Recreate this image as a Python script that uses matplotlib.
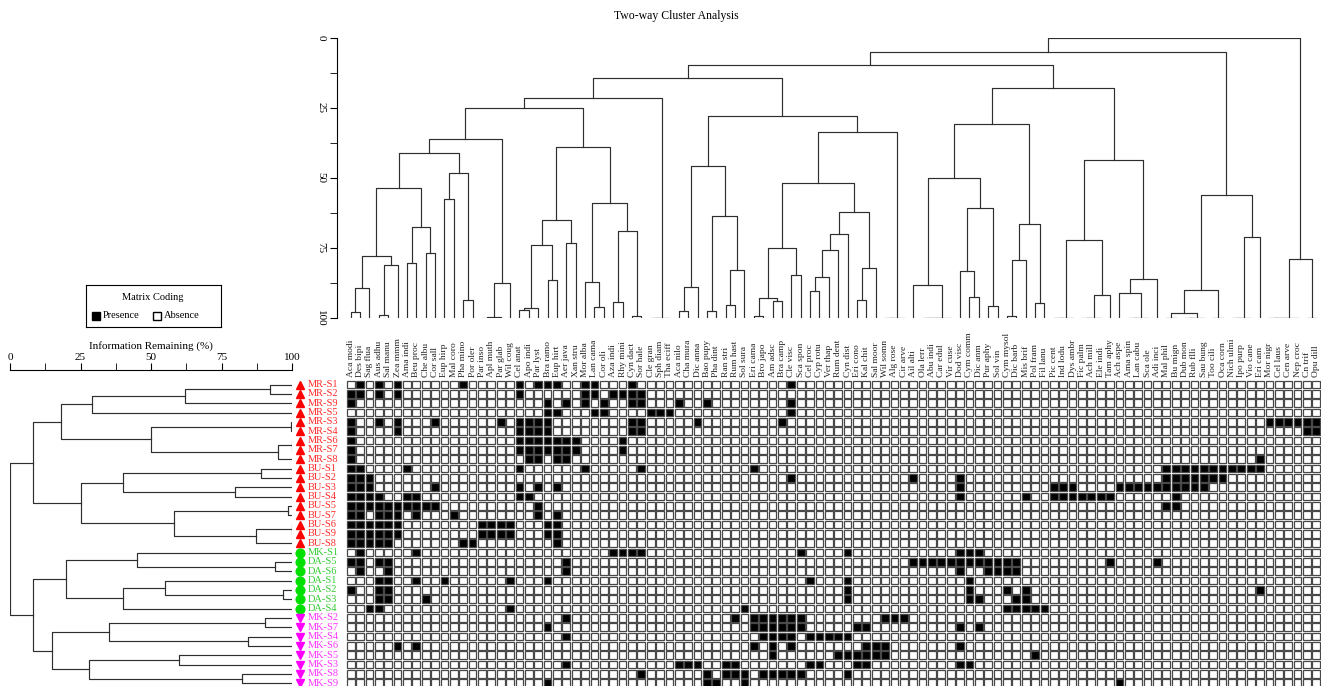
import numpy as np
import matplotlib.pyplot as plt
from matplotlib.patches import Rectangle
from matplotlib.ticker import MultipleLocator

plt.rcParams['font.family'] = ['Liberation Serif', 'DejaVu Serif']

W, H = 1322, 686

species = [
    "Aca modi", "Des bipi", "Sag flua", "Aus adhu", "Sal manu", "Zea mmm", "Ama indi", "Beu proc", "Che albu", "Cor sall",
    "Eup hirp", "Mal coro", "Pha mino", "Por oler", "Par inso", "Apl muth", "Par glab", "Wil coug", "Cel anat", "Apo indi",
    "Par lyst", "Bra ramo", "Eup hirt", "Aer java", "Xan stru", "Mor alba", "Lan cama", "Cor oli", "Aza indi", "Rhy mini",
    "Cyn dact", "Sor hale", "Cle gran", "Sph diam", "Tha eciff", "Aca nilo", "Cha mura", "Dic anna", "Bao pupy", "Pha dint",
    "Ran stri", "Rum hast", "Sol sura", "Eri cama", "Bro japo", "Am adsc", "Bra camp", "Cle visc", "Sca spon", "Cel proc",
    "Cyp rotu", "Ver thap", "Rum dent", "Cyn dist", "Eri cono", "Kal chit", "Sal moor", "Wil somn", "Alg rose", "Cir arve",
    "Ail alti", "Ola lerr", "Abu indi", "Car edul", "Vir cuse", "Dod visc", "Cym comm", "Dic anm", "Pur aphy", "Sol vin",
    "Cym mysol", "Dic barb", "Mis brif", "Pol fram", "Fil lanu", "Pic cent", "Ind lodu", "Dys ambr", "Fic palm", "Ach mill",
    "Ele indi", "Tam aphy", "Ach aspe", "Ama spin", "Lan cabu", "Sca ole", "Adi inci", "Mal phil", "Bu mign", "Dub mon",
    "Rub flli", "Sau bung", "Too cili", "Oca corn", "Nich ulmi", "Ipo purp", "Vio cane", "Eri cam", "Mor nigr", "Cel laus",
    "Cen arve", "Nep croc", "Cn trif", "Opu dill",
]

sites = [
    "MR-S1", "MR-S2", "MR-S9", "MR-S5", "MR-S3", "MR-S4", "MR-S6", "MR-S7", "MR-S8",
    "BU-S1", "BU-S2", "BU-S3", "BU-S4", "BU-S5", "BU-S7", "BU-S6", "BU-S9", "BU-S8",
    "MK-S1", "DA-S5", "DA-S6", "DA-S1", "DA-S2", "DA-S3", "DA-S4",
    "MK-S2", "MK-S7", "MK-S4", "MK-S6", "MK-S5", "MK-S3", "MK-S8", "MK-S9",
]
site_group = [1] * 18 + [2] * 7 + [3] * 8

# columns (species index) where each site has the species present
presence = [
    [1, 3, 5, 12, 18, 20, 21, 22, 25, 26, 30, 47],
    [0, 1, 3, 5, 18, 25, 26, 28, 29, 30, 31],
    [0, 21, 23, 25, 27, 30, 31, 35, 38, 47],
    [21, 22, 26, 27, 32, 33, 34, 47],
    [0, 3, 5, 9, 16, 18, 19, 20, 21, 30, 31, 37, 46, 98, 99, 100, 101, 102, 103],
    [0, 5, 18, 19, 20, 21, 30, 31, 102, 103],
    [0, 18, 19, 20, 21, 22, 23, 24, 29],
    [0, 18, 19, 20, 21, 22, 23, 24, 29],
    [0, 19, 20, 22, 23, 97],
    [0, 1, 6, 18, 25, 31, 43, 87, 88, 89, 90, 91, 92, 93, 94, 95, 96, 97],
    [0, 1, 2, 47, 60, 65, 87, 88, 89, 90, 91, 92, 93],
    [0, 1, 2, 9, 18, 20, 22, 65, 75, 76, 77, 82, 83, 84, 85, 86, 87, 88, 89, 90, 91],
    [0, 1, 2, 3, 6, 7, 18, 19, 65, 72, 75, 76, 77, 78, 79, 80, 81, 88],
    [0, 1, 2, 3, 4, 5, 6, 7, 8, 9, 20, 87, 88],
    [0, 1, 3, 4, 5, 7, 11, 20, 22],
    [0, 1, 2, 3, 4, 5, 14, 15, 16, 17, 21, 22],
    [0, 1, 2, 3, 4, 5, 14, 15, 16, 17, 21, 22],
    [0, 1, 2, 3, 4, 12, 13, 22],
    [1, 7, 28, 29, 30, 31, 48, 53, 65, 66, 67],
    [0, 1, 3, 4, 23, 60, 61, 62, 63, 64, 65, 66, 67, 68, 69, 70, 71, 81, 86],
    [1, 4, 23, 65, 68, 69, 70, 71],
    [3, 4, 7, 10, 17, 21, 49, 53, 66],
    [0, 3, 4, 53, 66, 70, 72, 97],
    [3, 4, 8, 53, 66, 67, 71, 72],
    [2, 3, 17, 42, 70, 71, 72, 73, 74],
    [23, 41, 43, 44, 45, 46, 47, 48, 57, 58, 59],
    [21, 43, 44, 45, 46, 47, 48, 54, 55, 65, 67],
    [23, 44, 45, 46, 47, 49, 50, 51, 52, 53],
    [5, 7, 43, 45, 47, 55, 56, 57, 65],
    [45, 52, 53, 54, 55, 56, 57, 73],
    [23, 35, 36, 37, 40, 41, 49, 50, 54, 55, 65, 66],
    [31, 38, 40, 41, 42, 44, 45, 46, 47, 48, 53],
    [21, 38, 39, 42, 82],
]

# dendrogram links: (start, split, end, information remaining %)
# each joins leaves [start, split) with [split, end)
top_links = [
    (0, 98, 104, 0), (0, 87, 98, 5.1), (0, 60, 87, 9.7), (0, 35, 60, 14.2),
    # Aca modi .. Tha eciff
    (0, 32, 35, 21.5), (0, 18, 32, 24.9), (0, 14, 18, 36.1), (0, 10, 14, 41.2),
    (0, 6, 10, 53.7), (0, 3, 6, 77.8), (0, 2, 3, 89.3), (0, 1, 2, 98),
    (3, 5, 6, 81.2), (3, 4, 5, 98.8), (6, 8, 10, 67.5), (6, 7, 8, 80.5),
    (8, 9, 10, 76.7), (10, 12, 14, 48.3), (10, 11, 12, 57.6), (12, 13, 14, 93.4),
    (14, 17, 18, 87.6), (14, 16, 17, 99.5), (14, 15, 16, 100),
    (18, 25, 32, 38.8), (18, 23, 25, 65.1), (18, 21, 23, 74.1), (18, 20, 21, 96.5),
    (18, 19, 20, 97), (21, 22, 23, 86.5), (23, 24, 25, 73.1),
    (25, 28, 32, 58.8), (25, 26, 28, 87.1), (26, 27, 28, 96), (28, 30, 32, 68.9),
    (28, 29, 30, 94.4), (30, 31, 32, 99.2), (32, 34, 35, 100), (32, 33, 34, 100),
    # Aca nilo .. Cir arve
    (35, 43, 60, 27.8), (35, 38, 43, 45.8), (35, 37, 38, 88.8), (35, 36, 37, 97.4),
    (38, 40, 43, 63.4), (38, 39, 40, 97.4), (40, 42, 43, 82.8), (40, 41, 42, 95.5),
    (43, 57, 60, 33.4), (43, 49, 57, 51.8), (43, 47, 49, 75.1), (43, 45, 47, 92.7),
    (43, 44, 45, 99.2), (45, 46, 47, 94.1), (47, 48, 49, 84.5),
    (49, 54, 57, 62.1), (49, 53, 54, 70.1), (49, 52, 53, 75.7), (49, 51, 52, 85.2),
    (49, 50, 51, 90.5), (54, 56, 57, 82.2), (54, 55, 56, 93.7),
    (57, 59, 60, 100), (57, 58, 59, 100),
    # Ail alti .. Adi inci
    (60, 75, 87, 18), (60, 70, 75, 30.8), (60, 65, 70, 50), (60, 61, 65, 88.2),
    (61, 64, 65, 100), (61, 63, 64, 100), (61, 62, 63, 100),
    (65, 68, 70, 60.6), (65, 66, 68, 83.3), (66, 67, 68, 92.4), (68, 69, 70, 95.7),
    (70, 73, 75, 66.4), (70, 72, 73, 79.4), (70, 71, 72, 99.2), (73, 74, 75, 94.7),
    (75, 82, 87, 43.4), (75, 78, 82, 72.2), (75, 77, 78, 100), (75, 76, 77, 100),
    (78, 81, 82, 91.8), (78, 80, 81, 100), (78, 79, 80, 100),
    (82, 86, 87, 85.9), (82, 83, 86, 91.1), (83, 85, 86, 100), (83, 84, 85, 100),
    # Mal phil .. Eri cam
    (87, 94, 98, 55.9), (87, 92, 94, 89.9), (87, 89, 92, 98.2), (87, 88, 89, 100),
    (89, 91, 92, 100), (89, 90, 91, 100), (92, 93, 94, 100),
    (94, 97, 98, 71.1), (94, 96, 97, 100), (94, 95, 96, 100),
    # Mor nigr .. Opu dill
    (98, 102, 104, 78.8), (98, 101, 102, 100), (98, 100, 101, 100),
    (98, 99, 100, 100), (102, 103, 104, 100),
]
left_links = [
    (0, 18, 33, 0), (0, 9, 18, 8), (18, 25, 33, 8),
    # MR sites
    (0, 4, 9, 18), (0, 3, 4, 29), (0, 2, 3, 62), (0, 1, 2, 92.2), (4, 6, 9, 50),
    (4, 5, 6, 99.6), (6, 8, 9, 95), (6, 7, 8, 100),
    # BU sites
    (9, 13, 18, 25), (9, 11, 13, 40), (9, 10, 11, 89), (11, 12, 13, 79.8),
    (13, 15, 18, 58), (13, 14, 15, 98.6), (15, 17, 18, 87.2), (15, 16, 17, 100),
    # DA sites and MK-S1
    (18, 21, 25, 20), (18, 19, 21, 45), (19, 20, 21, 94), (21, 24, 25, 40),
    (21, 22, 24, 55), (22, 23, 24, 96.8),
    # MK sites
    (25, 29, 33, 15), (25, 27, 29, 35), (25, 26, 27, 90.4), (27, 28, 29, 84.4),
    (29, 31, 33, 28), (29, 30, 31, 60), (31, 32, 33, 82.3),
]

LINE = '#2e2e2e'


def px_box(left, top, width, height):
    return [left / W, 1 - (top + height) / H, width / W, height / H]


def draw_dendrogram(ax, links, n, vertical=True):
    by_range = {(s, e): (m, h) for s, m, e, h in links}
    done = {}

    def node(s, e):
        if e - s == 1:
            return s + 0.5, 100.0
        if (s, e) in done:
            return done[(s, e)]
        m, h = by_range[(s, e)]
        xl, hl = node(s, m)
        xr, hr = node(m, e)
        if vertical:
            ax.plot([xl, xl, xr, xr], [hl, h, h, hr], color=LINE, lw=0.85)
        else:
            ax.plot([hl, h, h, hr], [xl, xl, xr, xr], color=LINE, lw=0.85)
        done[(s, e)] = ((xl + xr) / 2.0, h)
        return done[(s, e)]

    node(0, n)


fig = plt.figure(figsize=(W / 100, H / 100), dpi=100)
n_rows, n_cols = len(sites), len(species)
row_h = 9.33

fig.text(676 / W, 1 - 16 / H, "Two-way Cluster Analysis", ha='center', va='center', fontsize=8.5)

# presence/absence matrix
ax_mat = fig.add_axes(px_box(346, 380, 975, n_rows * row_h))
ax_mat.set_xlim(0, n_cols)
ax_mat.set_ylim(n_rows, 0)
ax_mat.axis('off')
for r, cols in enumerate(presence):
    present = set(cols)
    for c in range(n_cols):
        fc = 'black' if c in present else 'white'
        ax_mat.add_patch(Rectangle((c + 0.09, r + 0.09), 0.82, 0.82, facecolor=fc,
                                   edgecolor='#484848', lw=0.9))
for c, name in enumerate(species):
    ax_mat.text(c + 0.5, -0.3, name, rotation=90, ha='center', va='bottom',
                fontsize=6.8, color='#222222')

# site markers and labels
ax_lab = fig.add_axes(px_box(292, 380, 54, n_rows * row_h))
ax_lab.set_xlim(0, 54)
ax_lab.set_ylim(n_rows, 0)
ax_lab.axis('off')
styles = {1: ('^', '#ff0000', '#ff2a2a'), 2: ('o', '#00e000', '#33cc33'), 3: ('v', '#ff00ff', '#ff33ff')}
for r, (name, g) in enumerate(zip(sites, site_group)):
    mk, mc, tc = styles[g]
    ax_lab.plot(8, r + 0.5, marker=mk, color=mc, ms=6.3, ls='none')
    ax_lab.text(16, r + 0.5, name, color=tc, fontsize=7.5, va='center', ha='left')

# species dendrogram
ax_top = fig.add_axes(px_box(346, 38, 975, 280))
ax_top.set_xlim(0, n_cols)
ax_top.set_ylim(100, 0)
for sp in ['top', 'right', 'bottom']:
    ax_top.spines[sp].set_visible(False)
ax_top.spines['left'].set_position(('outward', 6.5))
ax_top.set_xticks([])
ax_top.set_yticks([0, 25, 50, 75, 100])
ax_top.yaxis.set_minor_locator(MultipleLocator(12.5))
ax_top.tick_params(axis='y', which='both', length=5, labelsize=8)
for t in ax_top.get_yticklabels():
    t.set_rotation(-90)
    t.set_va('center')
draw_dendrogram(ax_top, top_links, n_cols, vertical=True)

# site dendrogram
ax_left = fig.add_axes(px_box(10, 380, 282, n_rows * row_h))
ax_left.set_xlim(0, 100)
ax_left.set_ylim(n_rows, 0)
for sp in ['bottom', 'right', 'left']:
    ax_left.spines[sp].set_visible(False)
ax_left.spines['top'].set_position(('outward', 7))
ax_left.xaxis.tick_top()
ax_left.xaxis.set_label_position('top')
ax_left.set_yticks([])
ax_left.set_xticks([0, 25, 50, 75, 100])
ax_left.xaxis.set_minor_locator(MultipleLocator(12.5))
ax_left.tick_params(axis='x', which='both', length=5, labelsize=8, pad=1)
ax_left.set_xlabel("Information Remaining (%)", fontsize=8, labelpad=3)
draw_dendrogram(ax_left, left_links, n_rows, vertical=False)

# legend box
ax_leg = fig.add_axes(px_box(86, 285, 135, 42))
ax_leg.set_xlim(0, 135)
ax_leg.set_ylim(42, 0)
ax_leg.set_xticks([])
ax_leg.set_yticks([])
ax_leg.text(67, 12, "Matrix Coding", ha='center', va='center', fontsize=7.5)
ax_leg.plot(10, 31, marker='s', color='black', ms=6)
ax_leg.text(17, 31, "Presence", va='center', fontsize=7.5)
ax_leg.plot(71, 31, marker='s', mfc='white', mec='black', ms=6)
ax_leg.text(78, 31, "Absence", va='center', fontsize=7.5)

fig.savefig("out.png", dpi=100)
